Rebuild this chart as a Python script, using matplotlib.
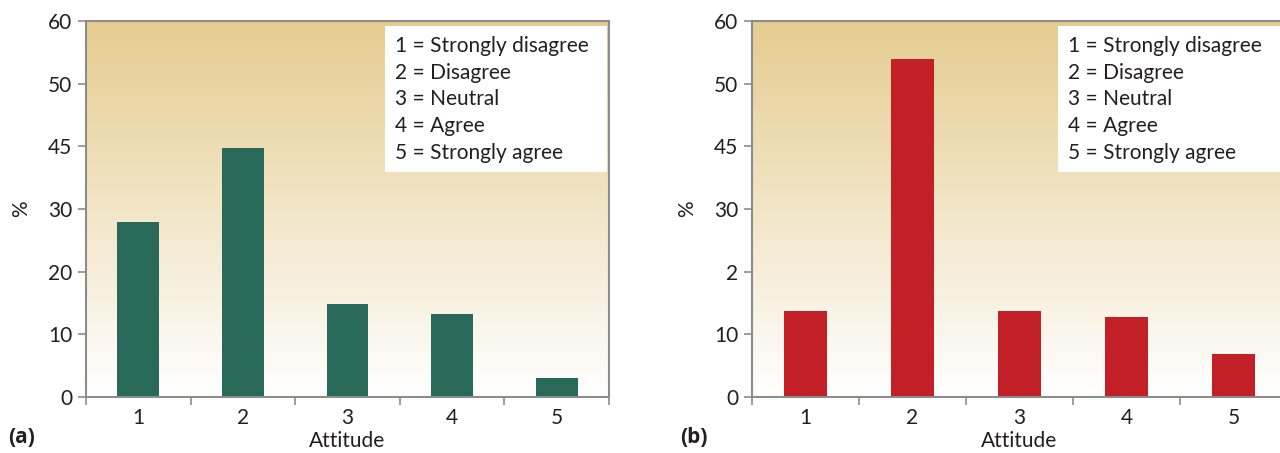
import numpy as np
import matplotlib
matplotlib.use('Agg')
import matplotlib.pyplot as plt
from matplotlib.patches import Rectangle

plt.rcParams['font.family'] = ['Lato', 'DejaVu Sans']

# data
categories = ['1', '2', '3', '4', '5']
values_a = [27.9, 39.8, 14.8, 13.2, 3.0]
values_b = [13.7, 53.9, 13.7, 12.8, 6.9]
yticks = [0, 10, 20, 30, 40, 50, 60]
ytick_labels_a = ['0', '10', '20', '30', '45', '50', '60']
ytick_labels_b = ['0', '10', '2', '30', '45', '50', '60']
key_lines = ['1 = Strongly disagree', '2 = Disagree', '3 = Neutral',
             '4 = Agree', '5 = Strongly agree']

TXT = '#231f20'
SPINE = '#8c8c8c'
FS = 15


def panel(fig, rect, values, ylabels, color, tag, tag_x):
    ax = fig.add_axes(rect)
    x = np.arange(len(categories))

    # tan -> white gradient background
    grad = np.linspace(0, 1, 256)[:, None]
    top = np.array([229, 204, 144]) / 255
    bot = np.array([255, 255, 255]) / 255
    img = top[None, None, :] * (1 - grad[:, :, None]) + bot[None, None, :] * grad[:, :, None]
    ax.imshow(img, extent=[0, 1, 0, 1], transform=ax.transAxes, aspect='auto', zorder=0)

    ax.bar(x, values, width=0.4, color=color, zorder=2)
    ax.set_xlim(-0.5, len(categories) - 0.5)
    ax.set_ylim(0, 60)

    ax.set_yticks(yticks)
    ax.set_yticklabels(ylabels)
    ax.set_xticks(x)
    ax.set_xticklabels(categories)
    ax.set_xticks(np.arange(len(categories) + 1) - 0.5, minor=True)
    ax.tick_params(axis='x', which='major', length=0, pad=8, labelsize=FS, labelcolor=TXT)
    ax.tick_params(axis='x', which='minor', length=6, width=1.2, color=SPINE, direction='out')
    ax.tick_params(axis='y', length=6, width=1.2, color=SPINE, labelsize=FS, labelcolor=TXT, pad=4)

    for s in ax.spines.values():
        s.set_color(SPINE)
        s.set_linewidth(1.5)

    ax.set_xlabel('Attitude', fontsize=FS, color=TXT, labelpad=2)
    ax.set_ylabel('%', fontsize=FS, color=TXT, labelpad=12)

    # key box
    ax.add_patch(Rectangle((0.572, 0.598), 0.425, 0.389, transform=ax.transAxes,
                           facecolor='white', edgecolor='none', zorder=3))
    ax.text(0.59, 0.96, '\n'.join(key_lines), transform=ax.transAxes, ha='left', va='top',
            fontsize=FS, color=TXT, linespacing=1.42, zorder=4)

    fig.text(tag_x, 0.022, tag, fontsize=FS, fontweight='bold', color=TXT, ha='left',
             family=['Open Sans', 'DejaVu Sans'])
    return ax


fig = plt.figure(figsize=(12.8, 4.53), dpi=100)
panel(fig, [86 / 1280, 1 - 397 / 453, 523 / 1280, 376 / 453], values_a, ytick_labels_a,
      '#28695a', '(a)', 8 / 1280)
panel(fig, [752 / 1280, 1 - 397 / 453, 535 / 1280, 376 / 453], values_b, ytick_labels_b,
      '#c21f26', '(b)', 680 / 1280)

fig.savefig('out.png', dpi=100, facecolor='white')
